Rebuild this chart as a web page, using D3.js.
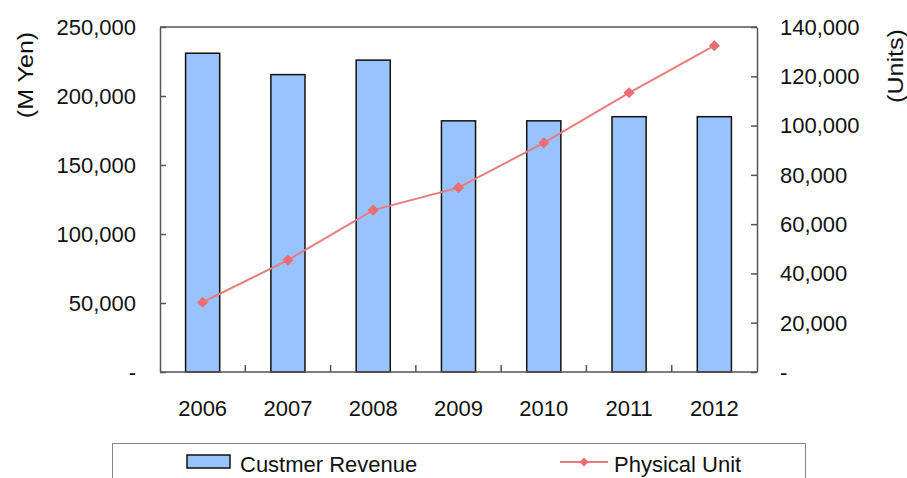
<!DOCTYPE html>
<html>
<head>
<meta charset="utf-8">
<script src="https://cdn.jsdelivr.net/npm/d3@7"></script>
<style>
  body { margin: 0; background: #fff; }
  text { font-family: "Liberation Sans", Arial, sans-serif; fill: #111; }
</style>
</head>
<body>
<div id="chart"></div>
<script>
var years = ["2006", "2007", "2008", "2009", "2010", "2011", "2012"];
var revenue = [231000, 215500, 226000, 182000, 182000, 185000, 185000];
var units = [28300, 45400, 65700, 74800, 93000, 113300, 132400];
var leftTicks = [0, 50000, 100000, 150000, 200000, 250000];
var rightTicks = [0, 20000, 40000, 60000, 80000, 100000, 120000, 140000];

var width = 907, height = 478;
var plotLeft = 160, plotRight = 757, plotTop = 27, plotBottom = 372;

var svg = d3.select("#chart").append("svg")
    .attr("width", width)
    .attr("height", height);

var x = d3.scaleBand().domain(years).range([plotLeft, plotRight])
    .paddingInner(0.6).paddingOuter(0.3);
var yL = d3.scaleLinear().domain([0, 250000]).range([plotBottom, plotTop]);
var yR = d3.scaleLinear().domain([0, 140000]).range([plotBottom, plotTop]);

var fmt = function (d) { return d === 0 ? "-" : d3.format(",")(d); };
var gap = (x.step() - x.bandwidth()) / 2;

// plot frame (top border)
svg.append("line")
    .attr("x1", plotLeft).attr("x2", plotRight)
    .attr("y1", plotTop).attr("y2", plotTop)
    .attr("stroke", "#555").attr("stroke-width", 1.5);

// bars
svg.selectAll(".bar")
    .data(revenue)
    .enter().append("rect")
    .attr("class", "bar")
    .attr("x", function (d, i) { return x(years[i]); })
    .attr("width", x.bandwidth())
    .attr("y", function (d) { return yL(d); })
    .attr("height", function (d) { return plotBottom - yL(d); })
    .attr("fill", "#99C3FF")
    .attr("stroke", "#111")
    .attr("stroke-width", 1.5);

// left axis
var gl = svg.append("g")
    .attr("transform", "translate(" + plotLeft + ",0)")
    .call(d3.axisRight(yL).tickValues(leftTicks).tickSize(6).tickSizeOuter(0).tickFormat(""));
gl.selectAll("path, line").attr("stroke", "#555").attr("stroke-width", 1.5);
svg.selectAll(".lt")
    .data(leftTicks)
    .enter().append("text")
    .attr("x", 136)
    .attr("y", function (d) { return yL(d); })
    .attr("dy", "0.36em")
    .attr("text-anchor", "end")
    .style("font-size", "22px")
    .text(fmt);

// right axis
var gr = svg.append("g")
    .attr("transform", "translate(" + plotRight + ",0)")
    .call(d3.axisLeft(yR).tickValues(rightTicks).tickSize(6).tickSizeOuter(0).tickFormat(""));
gr.selectAll("path, line").attr("stroke", "#555").attr("stroke-width", 1.5);
svg.selectAll(".rt")
    .data(rightTicks)
    .enter().append("text")
    .attr("x", 780)
    .attr("y", function (d) { return yR(d); })
    .attr("dy", "0.36em")
    .attr("text-anchor", "start")
    .style("font-size", "22px")
    .text(fmt);

// bottom axis
svg.append("line")
    .attr("x1", plotLeft).attr("x2", plotRight)
    .attr("y1", plotBottom).attr("y2", plotBottom)
    .attr("stroke", "#555").attr("stroke-width", 1.5);
svg.selectAll(".xt")
    .data(years.slice(1))
    .enter().append("line")
    .attr("x1", function (d) { return x(d) - gap; })
    .attr("x2", function (d) { return x(d) - gap; })
    .attr("y1", plotBottom)
    .attr("y2", plotBottom - 7)
    .attr("stroke", "#555").attr("stroke-width", 1.5);
svg.selectAll(".xl")
    .data(years)
    .enter().append("text")
    .attr("x", function (d) { return x(d) + x.bandwidth() / 2; })
    .attr("y", 416)
    .attr("text-anchor", "middle")
    .style("font-size", "22px")
    .text(function (d) { return d; });

// line series
var line = d3.line()
    .x(function (d, i) { return x(years[i]) + x.bandwidth() / 2; })
    .y(function (d) { return yR(d); });
svg.append("path")
    .datum(units)
    .attr("d", line)
    .attr("fill", "none")
    .attr("stroke", "#E97C7E")
    .attr("stroke-width", 2);
svg.selectAll(".pt")
    .data(units)
    .enter().append("path")
    .attr("d", d3.symbol().type(d3.symbolSquare).size(62))
    .attr("transform", function (d, i) {
        return "translate(" + (x(years[i]) + x.bandwidth() / 2) + "," + yR(d) + ") rotate(45)";
    })
    .attr("fill", "#EB6E72");

// axis titles
svg.append("text")
    .attr("transform", "translate(33,75) rotate(-90) scale(1.14,1)")
    .attr("text-anchor", "middle")
    .style("font-size", "22px")
    .text("(M Yen)");
svg.append("text")
    .attr("transform", "translate(903,66) rotate(-90) scale(1.14,1)")
    .attr("text-anchor", "middle")
    .style("font-size", "22px")
    .text("(Units)");

// legend
svg.append("rect")
    .attr("x", 112.5).attr("y", 443.5)
    .attr("width", 693).attr("height", 60)
    .attr("fill", "none")
    .attr("stroke", "#888").attr("stroke-width", 1);
svg.append("rect")
    .attr("x", 187).attr("y", 455)
    .attr("width", 43).attr("height", 13)
    .attr("fill", "#99C3FF")
    .attr("stroke", "#111").attr("stroke-width", 1.5);
svg.append("text")
    .attr("x", 240).attr("y", 472)
    .style("font-size", "22px")
    .text("Custmer Revenue");
svg.append("line")
    .attr("x1", 560).attr("x2", 608)
    .attr("y1", 462).attr("y2", 462)
    .attr("stroke", "#E97C7E").attr("stroke-width", 2);
svg.append("path")
    .attr("d", d3.symbol().type(d3.symbolSquare).size(40))
    .attr("transform", "translate(584,462) rotate(45)")
    .attr("fill", "#EB6E72");
svg.append("text")
    .attr("x", 614).attr("y", 472)
    .style("font-size", "22px")
    .text("Physical Unit");
</script>
</body>
</html>
